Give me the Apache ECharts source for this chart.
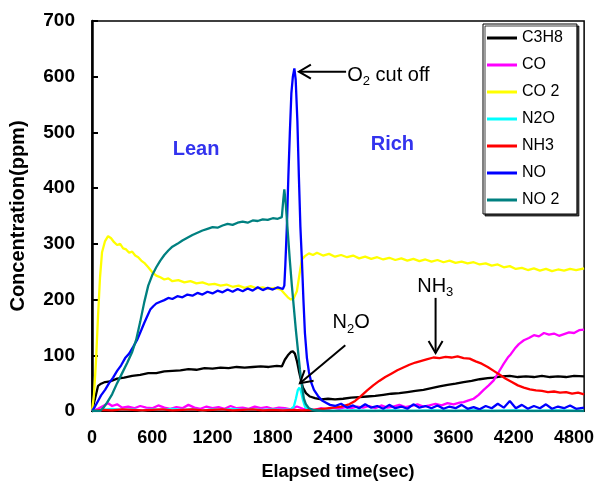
<!DOCTYPE html>
<html>
<head>
<meta charset="utf-8">
<script src="https://cdn.jsdelivr.net/npm/echarts@6/dist/echarts.min.js"></script>
<style>html,body{margin:0;padding:0;background:#fff}#c{width:597px;height:491px}</style>
</head>
<body>
<div id="c"></div>
<script>
const seriesNames = ['C3H8', 'CO', 'CO 2', 'N2O', 'NH3', 'NO', 'NO 2'];
const xTicks = [0, 600, 1200, 1800, 2400, 3000, 3600, 4200, 4800];
const yTicks = [0, 100, 200, 300, 400, 500, 600, 700];

const c3h8 = [[0,0],[30,22],[60,45],[90,49],[130,52],[180,53],[250,58],[320,60],[400,63],[480,65],[560,68],[640,68],[720,71],[800,72],[880,73],[960,75],[1040,74],[1120,77],[1200,76],[1280,78],[1360,77],[1440,79],[1520,78],[1600,79],[1680,80],[1760,79],[1840,81],[1890,80],[1920,92],[1950,100],[1980,106],[2000,107],[2020,103],[2040,90],[2060,72],[2080,56],[2100,42],[2130,32],[2170,26],[2220,23],[2280,21],[2350,22],[2420,21],[2500,22],[2580,24],[2660,25],[2740,26],[2820,27],[2900,29],[2980,31],[3060,32],[3140,34],[3220,36],[3300,38],[3380,41],[3460,44],[3540,47],[3620,49],[3700,52],[3780,54],[3860,57],[3940,59],[4000,60],[4080,62],[4160,63],[4240,61],[4320,62],[4400,61],[4480,63],[4560,61],[4640,62],[4720,61],[4800,63],[4900,62]];
const co = [[0,0],[60,4],[120,10],[160,14],[200,9],[250,12],[300,6],[360,8],[420,5],[480,9],[540,6],[600,5],[660,10],[720,6],[780,4],[840,7],[900,5],[960,11],[1020,6],[1080,4],[1140,8],[1200,5],[1260,7],[1320,4],[1380,9],[1440,5],[1500,6],[1560,4],[1620,8],[1680,5],[1740,7],[1800,4],[1860,6],[1920,5],[1980,3],[2040,8],[2100,4],[2160,3],[2220,2],[2280,5],[2340,3],[2400,6],[2460,4],[2520,7],[2580,5],[2640,8],[2700,6],[2760,9],[2820,5],[2880,10],[2940,6],[3000,8],[3060,11],[3120,7],[3180,9],[3240,12],[3300,8],[3360,10],[3420,13],[3480,10],[3540,14],[3600,12],[3660,15],[3700,16],[3750,19],[3800,22],[3850,29],[3900,38],[3950,46],[4000,55],[4050,70],[4100,85],[4140,96],[4170,102],[4210,112],[4250,120],[4300,127],[4350,131],[4400,136],[4450,134],[4500,140],[4550,137],[4600,139],[4650,135],[4700,138],[4750,141],[4800,140],[4850,145],[4900,146]];
const co2 = [[0,0],[20,30],[40,90],[60,170],[80,240],[100,285],[130,305],[160,314],[190,310],[220,303],[250,298],[280,300],[310,292],[340,290],[370,284],[400,286],[430,279],[460,276],[490,270],[520,266],[560,258],[600,249],[640,243],[680,240],[720,236],[760,238],[800,233],[860,235],[920,231],[980,233],[1040,229],[1100,231],[1160,227],[1220,228],[1280,225],[1340,227],[1400,223],[1460,225],[1520,221],[1580,224],[1640,220],[1700,222],[1760,219],[1820,221],[1880,218],[1920,210],[1950,204],[1980,200],[2010,203],[2040,215],[2070,250],[2090,272],[2120,278],[2160,283],[2200,280],[2240,284],[2300,279],[2360,282],[2420,277],[2480,280],[2540,276],[2600,279],[2660,274],[2720,277],[2780,273],[2840,276],[2900,272],[2960,275],[3020,271],[3080,274],[3140,270],[3200,273],[3260,269],[3320,272],[3380,268],[3440,271],[3500,267],[3560,270],[3620,266],[3680,268],[3740,265],[3800,267],[3860,263],[3920,265],[3980,261],[4040,263],[4100,258],[4160,260],[4220,255],[4280,257],[4340,253],[4400,256],[4460,252],[4520,255],[4580,251],[4640,254],[4700,252],[4760,255],[4820,253],[4900,256]];
const n2o = [[0,0],[100,2],[200,4],[300,2],[400,3],[500,1],[600,3],[700,2],[800,4],[900,2],[1000,3],[1100,1],[1200,3],[1300,2],[1400,4],[1500,2],[1600,3],[1700,2],[1800,3],[1900,2],[1980,3],[2010,8],[2030,22],[2050,38],[2065,42],[2080,36],[2100,20],[2120,8],[2150,2],[2250,1],[2400,0],[2600,1],[2800,0],[3000,1],[3200,0],[3400,1],[3600,0],[3800,1],[4000,0],[4200,1],[4400,0],[4600,1],[4900,0]];
const nh3 = [[0,0],[100,2],[200,1],[300,3],[400,2],[500,1],[600,2],[700,3],[800,1],[900,2],[1000,3],[1100,1],[1200,2],[1300,3],[1400,1],[1500,2],[1600,3],[1700,1],[1800,2],[1900,1],[2000,2],[2100,1],[2200,2],[2300,4],[2400,6],[2480,8],[2560,12],[2620,18],[2680,27],[2740,37],[2800,46],[2860,54],[2920,61],[2980,67],[3040,73],[3100,78],[3160,83],[3220,87],[3280,90],[3340,93],[3400,96],[3460,95],[3520,97],[3580,96],[3640,98],[3700,95],[3760,94],[3820,89],[3880,85],[3940,79],[4000,72],[4060,65],[4120,58],[4180,52],[4240,46],[4300,42],[4360,39],[4420,37],[4480,36],[4540,34],[4600,35],[4660,33],[4720,34],[4780,31],[4840,33],[4900,30]];
const no = [[0,0],[30,8],[60,18],[90,28],[130,38],[170,50],[210,60],[250,72],[290,82],[330,95],[370,103],[410,115],[450,128],[490,145],[520,158],[550,170],[580,182],[610,188],[640,193],[680,196],[720,199],[760,203],[800,201],[850,206],[900,204],[950,209],[1000,207],[1050,212],[1100,209],[1150,214],[1200,211],[1250,216],[1300,213],[1350,218],[1400,214],[1450,219],[1500,215],[1550,220],[1600,216],[1650,222],[1700,217],[1750,221],[1800,218],[1850,222],[1900,219],[1915,225],[1925,262],[1940,330],[1955,420],[1970,500],[1985,570],[2000,600],[2015,615],[2028,595],[2045,520],[2060,420],[2075,330],[2090,270],[2105,200],[2120,140],[2140,95],[2160,70],[2185,50],[2210,38],[2250,27],[2290,19],[2330,15],[2370,11],[2420,9],[2480,13],[2540,6],[2600,10],[2660,5],[2720,12],[2780,6],[2840,9],[2900,4],[2960,11],[3020,5],[3080,8],[3140,4],[3200,12],[3260,6],[3320,9],[3380,5],[3440,10],[3500,4],[3560,8],[3620,5],[3680,11],[3740,4],[3800,7],[3860,3],[3920,9],[3980,5],[4040,13],[4100,6],[4160,18],[4220,5],[4280,11],[4340,4],[4400,9],[4460,5],[4520,12],[4580,4],[4640,8],[4700,5],[4760,10],[4820,4],[4900,6]];
const no2 = [[0,0],[80,0],[110,5],[150,15],[200,30],[250,50],[300,68],[350,86],[400,106],[440,128],[480,160],[520,195],[560,225],[600,244],[640,258],[680,270],[720,280],[760,288],[800,295],[850,300],[900,306],[950,311],[1000,316],[1050,320],[1100,324],[1150,327],[1200,330],[1250,329],[1300,333],[1350,336],[1400,334],[1450,338],[1500,340],[1550,338],[1600,342],[1650,341],[1700,344],[1750,343],[1800,346],[1850,345],[1890,348],[1905,380],[1915,398],[1930,370],[1950,320],[1970,270],[1990,225],[2010,185],[2030,145],[2050,110],[2070,75],[2090,45],[2110,22],[2130,12],[2160,5],[2200,2],[2300,0],[2600,0],[3000,0],[3500,0],[4000,0],[4500,0],[4900,0]];

const seriesData = [c3h8, co, co2, n2o, nh3, no, no2];
const colors = ['#000000', '#ff00ff', '#ffff00', '#00ffff', '#ff0000', '#0000ff', '#008080'];

const FONT = "'Liberation Sans', Arial, sans-serif";
const chart = echarts.init(document.getElementById('c'));

chart.setOption({
  animation: false,
  backgroundColor: '#fff',
  grid: { left: 87, right: 9, top: 21, bottom: 80, show: true, borderColor: '#000', borderWidth: 1.5, backgroundColor: 'transparent' },
  legend: {
    orient: 'vertical', left: 483, top: 24, width: 105,
    padding: [6, 14, 6, 4],
    itemWidth: 30, itemHeight: 3, itemGap: 11,
    icon: 'rect',
    backgroundColor: '#fff', borderColor: '#000', borderWidth: 1,
    shadowColor: 'rgba(0,0,0,0.75)', shadowOffsetX: 2, shadowOffsetY: 2, shadowBlur: 0,
    textStyle: { fontFamily: FONT, fontSize: 16, color: '#000', lineHeight: 16 },
    data: seriesNames
  },
  xAxis: {
    type: 'value', min: 0, max: 4900, interval: 600,
    name: 'Elapsed time(sec)', nameLocation: 'middle', nameGap: 52,
    nameTextStyle: { fontFamily: FONT, fontSize: 18, fontWeight: 'bold', color: '#000' },
    axisLine: { show: true, lineStyle: { color: '#000', width: 2 } },
    axisTick: { show: false },
    splitLine: { show: false },
    axisLabel: {
      margin: 18, fontFamily: FONT, fontSize: 18, fontWeight: 'bold', color: '#000',
      showMaxLabel: false,
      formatter: v => xTicks.includes(v) ? String(v) : ''
    }
  },
  yAxis: {
    type: 'value', min: 0, max: 700, interval: 100,
    name: 'Concentration(ppm)', nameLocation: 'middle', nameGap: 64, nameRotate: 90,
    nameTextStyle: { fontFamily: FONT, fontSize: 20, fontWeight: 'bold', color: '#000' },
    axisLine: { show: true, lineStyle: { color: '#000', width: 2.5 } },
    axisTick: { show: true, inside: true, length: 6, lineStyle: { color: '#000', width: 2 } },
    splitLine: { show: false },
    axisLabel: {
      margin: 17, fontFamily: FONT, fontSize: 19, fontWeight: 'bold', color: '#000',
      formatter: v => yTicks.includes(v) ? String(v) : ''
    }
  },
  series: seriesNames.map((n, i) => ({
    name: n, type: 'line', data: seriesData[i],
    showSymbol: false, symbol: 'none',
    lineStyle: { color: colors[i], width: 2.3 },
    itemStyle: { color: colors[i] },
    z: 2 + i
  }))
});

// Annotations in data coordinates
const textLean = { at: [1036, 469], text: 'Lean' };
const textRich = { at: [2991, 478], text: 'Rich' };
const textO2 = { at: [2541, 603] };
const textNH3 = { at: [3418, 224] };
const textN2O = { at: [2580, 158] };
const arrowO2 = [[2530, 609], [2060, 609]];
const arrowNH3 = [[3421, 203], [3421, 104]];
const arrowN2O = [[2522, 118], [2070, 50]];

function px(p) { return chart.convertToPixel({ gridIndex: 0 }, p); }

function arrow(a) {
  const p0 = px(a[0]), p1 = px(a[1]);
  const dx = p1[0] - p0[0], dy = p1[1] - p0[1];
  const L = Math.hypot(dx, dy), ux = dx / L, uy = dy / L;
  const hl = 12, hw = 7;
  const b1 = [p1[0] - ux * hl - uy * hw, p1[1] - uy * hl + ux * hw];
  const b2 = [p1[0] - ux * hl + uy * hw, p1[1] - uy * hl - ux * hw];
  return [
    { type: 'line', shape: { x1: p0[0], y1: p0[1], x2: p1[0], y2: p1[1] }, style: { stroke: '#000', lineWidth: 2 }, z: 100 },
    { type: 'polyline', shape: { points: [b1, p1, b2] }, style: { stroke: '#000', lineWidth: 2, fill: null }, z: 100 }
  ];
}

const richBase = {
  a: { fontFamily: FONT, fontSize: 20, color: '#000', lineHeight: 20 },
  s: { fontFamily: FONT, fontSize: 13, color: '#000', lineHeight: 13, padding: [12, 0, 0, 0] }
};

function label(at, text, align, extra) {
  const p = px(at);
  return {
    type: 'text', x: p[0], y: p[1], z: 100,
    style: Object.assign({ text: text, align: align, verticalAlign: 'middle', fontFamily: FONT }, extra)
  };
}

const g = [].concat(
  arrow(arrowO2), arrow(arrowNH3), arrow(arrowN2O),
  [
    label(textLean.at, textLean.text, 'center', { fontSize: 20, fontWeight: 'bold', fill: '#3333ee' }),
    label(textRich.at, textRich.text, 'center', { fontSize: 20, fontWeight: 'bold', fill: '#3333ee' }),
    label(textO2.at, '{a|O}{s|2}{a| cut off}', 'left', { rich: richBase }),
    label(textNH3.at, '{a|NH}{s|3}', 'center', { rich: richBase }),
    label(textN2O.at, '{a|N}{s|2}{a|O}', 'center', { rich: richBase })
  ]
);
chart.setOption({ graphic: g });
</script>
</body>
</html>
